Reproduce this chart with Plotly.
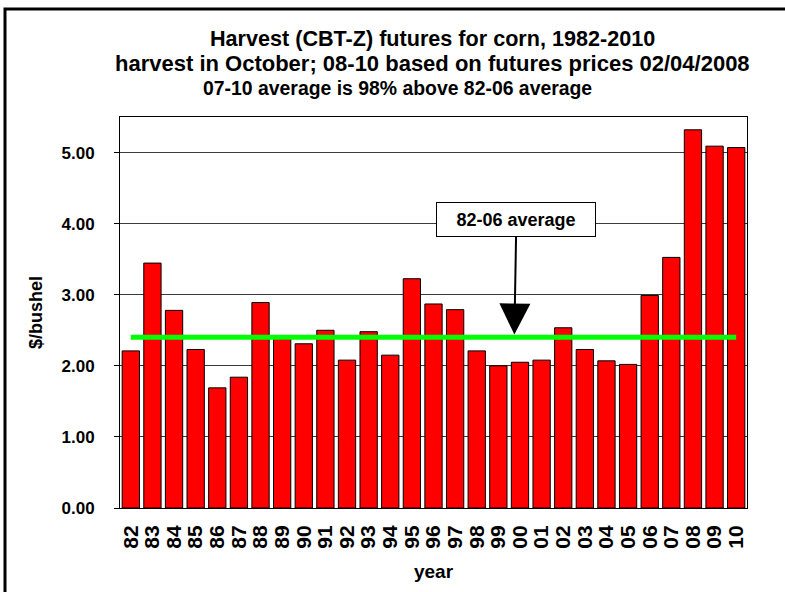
import plotly.graph_objects as go

years = ["82", "83", "84", "85", "86", "87", "88", "89", "90", "91", "92", "93", "94", "95",
         "96", "97", "98", "99", "00", "01", "02", "03", "04", "05", "06", "07", "08", "09", "10"]
prices = [2.21, 3.445, 2.78, 2.23, 1.69, 1.84, 2.89, 2.38, 2.31, 2.50, 2.08, 2.48, 2.15, 3.225,
          2.87, 2.79, 2.21, 2.00, 2.05, 2.08, 2.535, 2.23, 2.07, 2.02, 2.99, 3.525, 5.32, 5.09, 5.07]
base_years = years[:25]  # 82-06
avg_82_06 = sum(prices[:25]) / len(base_years)

y_ticks = [0, 1, 2, 3, 4, 5]
y_tick_text = ["0.00", "1.00", "2.00", "3.00", "4.00", "5.00"]

title_lines = [
    "Harvest (CBT-Z) futures for corn, 1982-2010",
    "harvest in October; 08-10 based on futures prices 02/04/2008",
    "07-10 average is 98% above 82-06 average",
]

FONT = "Arial, Liberation Sans, sans-serif"

fig = go.Figure()
fig.add_trace(go.Bar(
    x=years, y=prices,
    marker=dict(color="#FF0000", line=dict(color="#000000", width=1)),
    showlegend=False,
))
fig.add_trace(go.Scatter(
    x=years, y=[avg_82_06] * len(years), mode="lines",
    line=dict(color="#00FF00", width=5), showlegend=False,
))

fig.update_layout(
    width=785, height=592,
    margin=dict(l=120, r=38, t=117, b=84, autoexpand=False),
    paper_bgcolor="white", plot_bgcolor="white",
    font=dict(family=FONT, color="black"),
    bargap=0.2,
    showlegend=False,
)

fig.update_xaxes(
    type="category", categoryorder="array", categoryarray=years,
    tickmode="array", tickvals=years, ticktext=years,
    tickangle=-90, tickfont=dict(size=21, weight="bold", family=FONT),
    ticks="", showline=True, linecolor="black", linewidth=1, mirror=True,
    ticklabelstandoff=8,
    title=dict(text="year", font=dict(size=19, weight="bold", family=FONT), standoff=16),
    automargin=False,
)
fig.update_yaxes(
    range=[0, 5.5], tickvals=y_ticks, ticktext=y_tick_text,
    tickfont=dict(size=17, weight="bold", family=FONT),
    ticks="outside", ticklen=5, tickcolor="black",
    showgrid=True, gridcolor="#3a3a3a", gridwidth=1,
    showline=True, linecolor="black", linewidth=1, mirror=True,
    zeroline=False, ticklabelstandoff=16,
    title=dict(text="$/bushel", font=dict(size=18, weight="bold", family=FONT), standoff=14),
    automargin=False,
)

# Title lines
title_pos = [(0.499, 1.202, 21.6), (0.499, 1.138, 22), (0.442, 1.074, 19.4)]
for text, (px, py, fs) in zip(title_lines, title_pos):
    fig.add_annotation(
        x=px, y=py, xref="paper", yref="paper", text=text, showarrow=False,
        font=dict(size=fs, weight="bold", family=FONT), xanchor="center", yanchor="middle",
    )

# "82-06 average" callout with arrow
fig.add_annotation(
    x=17.74, y=2.44, xref="x", yref="y",
    text="82-06 average", showarrow=True,
    ax=2, ay=-115, axref="pixel", ayref="pixel",
    arrowhead=2, arrowsize=3.1, arrowwidth=2, arrowcolor="black",
    font=dict(size=18, weight="bold", family=FONT),
    bgcolor="white", bordercolor="black", borderwidth=1, borderpad=3,
    width=152, height=27,
)

# Outer chart frame
fig.add_shape(
    type="rect", xref="paper", yref="paper",
    x0=(5 - 120) / 627, x1=(830 - 120) / 627,
    y0=(508 - 640) / 391, y1=(508 - 9) / 391,
    line=dict(color="black", width=3), fillcolor="rgba(0,0,0,0)", layer="above",
)

fig.write_html("out.html", config={"displayModeBar": False},
               post_script="document.body.style.margin='0px';")
